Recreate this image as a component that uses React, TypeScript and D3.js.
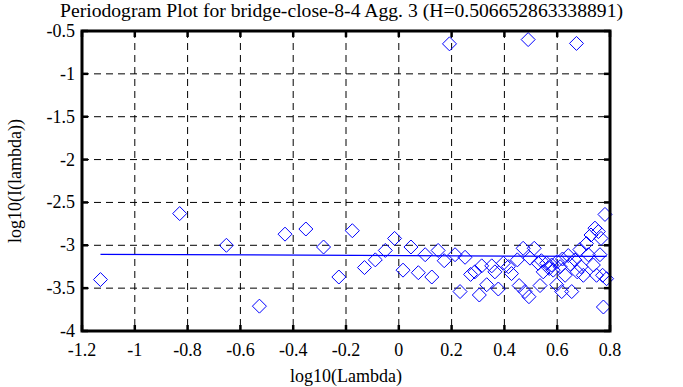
import React from "react";
import * as d3 from "d3";

// -- DATA --
const titleText = "Periodogram Plot for bridge-close-8-4 Agg. 3 (H=0.506652863338891)";
const xTicks = [-1.2, -1, -0.8, -0.6, -0.4, -0.2, 0, 0.2, 0.4, 0.6, 0.8];
const yTicks = [-4, -3.5, -3, -2.5, -2, -1.5, -1, -0.5];
// log10(lambda) of each point
const logLambda = [
  -1.13, -0.83, -0.653, -0.528, -0.431, -0.352, -0.285, -0.227, -0.176, -0.13,
  -0.089, -0.051, -0.016, 0.016, 0.046, 0.074, 0.1, 0.125, 0.149, 0.172,
  0.192, 0.213, 0.232, 0.251, 0.272, 0.288, 0.305, 0.314, 0.333, 0.352,
  0.364, 0.377, 0.396, 0.415, 0.427, 0.449, 0.456, 0.471, 0.478, 0.49,
  0.493, 0.497, 0.513, 0.528, 0.535, 0.54, 0.547, 0.56, 0.57, 0.579,
  0.585, 0.598, 0.6, 0.611, 0.617, 0.62, 0.63, 0.642, 0.65, 0.655,
  0.667, 0.673, 0.676, 0.686, 0.69, 0.699, 0.711, 0.718, 0.728, 0.737,
  0.743, 0.749, 0.756, 0.762, 0.766, 0.772, 0.775, 0.781, 0.787,
];
// log10(I(lambda)) of each point
const logI = [
  -3.4, -2.63, -3.0, -3.71, -2.87, -2.81, -3.02, -3.37, -2.83, -3.26,
  -3.17, -3.06, -2.92, -3.29, -3.02, -3.32, -3.11, -3.37, -3.06, -3.18,
  -0.65, -3.11, -3.54, -3.14, -3.34, -3.31, -3.58, -3.24, -3.46, -3.24,
  -3.31, -3.51, -3.21, -3.25, -3.33, -3.17, -3.47, -3.035, -3.54, -0.6,
  -3.6, -3.15, -3.035, -3.21, -3.47, -3.18, -3.31, -3.21, -3.27, -3.23,
  -3.29, -3.46, -3.19, -3.25, -3.54, -3.16, -3.35, -3.12, -3.22, -3.54,
  -3.17, -0.645, -3.31, -3.05, -3.25, -3.35, -2.98, -3.11, -2.88, -3.23,
  -2.8, -3.35, -2.84, -3.11, -2.92, -3.35, -3.72, -2.64, -3.39,
];
// fitted line: log10(I) = intercept + slope * log10(lambda)
const fitIntercept = -3.12;
const fitSlope = -0.0133;

const App = () => {
  const svgRef = React.useRef<SVGSVGElement | null>(null);
  const margin = { top: 31, right: 73, bottom: 56, left: 82 };
  const width = 683;
  const height = 387;
  const innerW = width - margin.left - margin.right;
  const innerH = height - margin.top - margin.bottom;

  React.useEffect(() => {
    const root = d3
      .select(svgRef.current)
      .attr("font-family", "Liberation Serif, DejaVu Serif, serif")
      .attr("font-size", 18);
    root.selectAll("*").remove();

    const x = d3.scaleLinear().domain([-1.2, 0.8]).range([0, innerW]);
    const y = d3.scaleLinear().domain([-4, -0.5]).range([innerH, 0]);

    // title, stretched to the reference's width
    root
      .append("text")
      .attr("x", 60)
      .attr("y", 17)
      .attr("textLength", 563)
      .attr("lengthAdjust", "spacingAndGlyphs")
      .text(titleText);

    const g = root
      .append("g")
      .attr("transform", `translate(${margin.left}, ${margin.top})`);

    // dashed grid on inner ticks
    g.selectAll("gridX")
      .data(xTicks.slice(1, -1))
      .enter()
      .append("line")
      .attr("x1", (d) => x(d))
      .attr("x2", (d) => x(d))
      .attr("y1", 0)
      .attr("y2", innerH)
      .style("stroke", "black")
      .style("stroke-width", 1)
      .style("stroke-dasharray", "7,5");
    g.selectAll("gridY")
      .data(yTicks.slice(1, -1))
      .enter()
      .append("line")
      .attr("x1", 0)
      .attr("x2", innerW)
      .attr("y1", (d) => y(d))
      .attr("y2", (d) => y(d))
      .style("stroke", "black")
      .style("stroke-width", 1)
      .style("stroke-dasharray", "7,5");

    // fitted line
    const xs = d3.extent(logLambda) as [number, number];
    g.append("path")
      .datum(xs)
      .attr(
        "d",
        d3
          .line<number>()
          .x((d) => x(d))
          .y((d) => y(fitIntercept + fitSlope * d))
      )
      .style("fill", "none")
      .style("stroke", "#0000ff")
      .style("stroke-width", 1.2);

    // diamonds
    const pts = logLambda.map((lx, i) => ({ x: lx, y: logI[i] }));
    g.selectAll("diamonds")
      .data(pts)
      .enter()
      .append("path")
      .attr("transform", (d) => `translate(${x(d.x)},${y(d.y)})`)
      .attr("d", "M0,-7L7,0L0,7L-7,0Z")
      .style("fill", "none")
      .style("stroke", "#0000ff")
      .style("stroke-width", 1);

    // ticks inward on all four sides
    const tickLen = 6;
    const tickStyle = (sel: any) =>
      sel.style("stroke", "black").style("stroke-width", 2.5);
    xTicks.forEach((t) => {
      tickStyle(g.append("line").attr("x1", x(t)).attr("x2", x(t)).attr("y1", innerH).attr("y2", innerH - tickLen));
      tickStyle(g.append("line").attr("x1", x(t)).attr("x2", x(t)).attr("y1", 0).attr("y2", tickLen));
    });
    yTicks.forEach((t) => {
      tickStyle(g.append("line").attr("x1", 0).attr("x2", tickLen).attr("y1", y(t)).attr("y2", y(t)));
      tickStyle(g.append("line").attr("x1", innerW).attr("x2", innerW - tickLen).attr("y1", y(t)).attr("y2", y(t)));
    });

    // frame
    g.append("rect")
      .attr("width", innerW)
      .attr("height", innerH)
      .style("fill", "none")
      .style("stroke", "black")
      .style("stroke-width", 3);

    // tick labels
    g.selectAll("xLabels")
      .data(xTicks)
      .enter()
      .append("text")
      .attr("x", (d) => x(d))
      .attr("y", innerH + 25)
      .attr("text-anchor", "middle")
      .text((d) => d3.format("")(d).replace("−", "-"));
    g.selectAll("yLabels")
      .data(yTicks)
      .enter()
      .append("text")
      .attr("x", -7)
      .attr("y", (d) => y(d) + 6)
      .attr("text-anchor", "end")
      .text((d) => d3.format("")(d).replace("−", "-"));

    // axis titles
    g.append("text")
      .attr("x", innerW / 2)
      .attr("y", innerH + 51)
      .attr("text-anchor", "middle")
      .text("log10(Lambda)");
    g.append("text")
      .attr("transform", `translate(${-margin.left + 21}, ${innerH / 2}) rotate(-90)`)
      .attr("text-anchor", "middle")
      .text("log10(I(lambda))");
  }, [innerW, innerH]);

  return (
    <svg
      ref={svgRef}
      width={width}
      height={height}
      style={{ position: "absolute", left: 0, top: 0, background: "white" }}
    />
  );
};

export default App;
